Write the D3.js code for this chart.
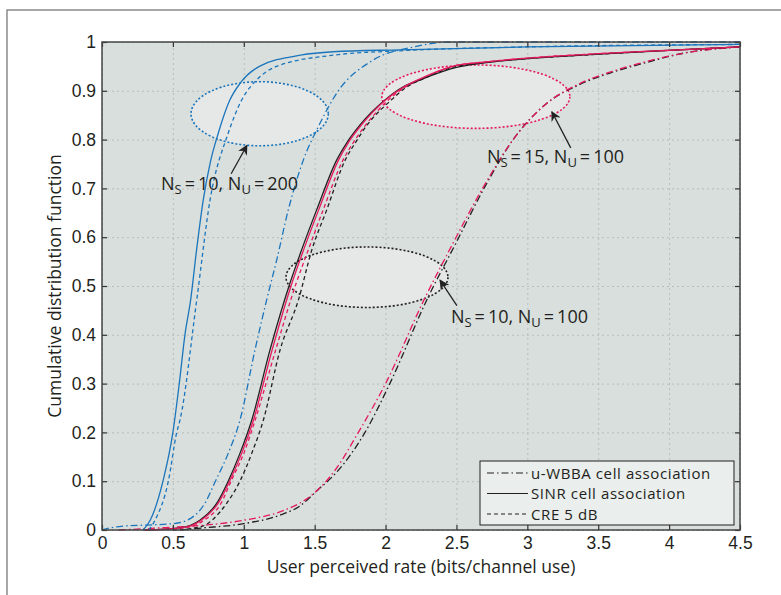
<!DOCTYPE html>
<html>
<head>
<meta charset="utf-8">
<script src="https://cdn.jsdelivr.net/npm/d3@7"></script>
<style>
  body { margin: 0; background: #fff; }
  svg { display: block; font-family: "Open Sans", "Noto Sans", sans-serif; }
</style>
</head>
<body>
<div id="chart"></div>
<script>
// tick labels
const xTicks = [0, 0.5, 1, 1.5, 2, 2.5, 3, 3.5, 4, 4.5];
const yTicks = [0, 0.1, 0.2, 0.3, 0.4, 0.5, 0.6, 0.7, 0.8, 0.9, 1];

// N_S=10, N_U=200 (blue)
const blueWbba = [[0,0],[0.07,0.005],[0.15,0.008],[0.3,0.01],[0.5,0.013],[0.6,0.02],[0.726,0.055],[0.8,0.1],[0.89,0.157],[0.973,0.225],[1.079,0.369],[1.161,0.471],[1.232,0.553],[1.314,0.656],[1.42,0.758],[1.525,0.826],[1.655,0.895],[1.913,0.963],[2.2,0.99],[2.45,1],[4.5,1]];
const blueSinr = [[0.29,0],[0.34,0.02],[0.43,0.1],[0.5,0.2],[0.545,0.3],[0.585,0.4],[0.625,0.471],[0.667,0.574],[0.714,0.676],[0.765,0.755],[0.82,0.813],[0.9,0.88],[0.973,0.915],[1.11,0.95],[1.4,0.973],[1.63,0.98],[2.1,0.984],[3,0.99],[4.5,0.995]];
const blueCre = [[0.33,0],[0.374,0.02],[0.468,0.1],[0.527,0.2],[0.55,0.225],[0.668,0.471],[0.762,0.676],[0.89,0.813],[0.985,0.881],[1.09,0.922],[1.23,0.95],[1.63,0.973],[2.1,0.982],[3,0.99],[4.5,0.995]];

// N_S=15, N_U=100 (red)
const redWbba = [[0.12,0],[0.45,0.005],[0.8,0.012],[1.0,0.02],[1.29,0.041],[1.45,0.065],[1.55,0.09],[1.65,0.125],[1.808,0.2],[2.0,0.3],[2.27,0.471],[2.48,0.59],[2.69,0.703],[2.9,0.8],[3.14,0.875],[3.37,0.915],[3.6,0.94],[3.84,0.96],[4.1,0.977],[4.5,0.99]];
const redSinr = [[0.3,0],[0.57,0.005],[0.7,0.02],[0.82,0.055],[0.9,0.1],[0.985,0.157],[1.068,0.225],[1.2,0.369],[1.34,0.506],[1.422,0.574],[1.528,0.656],[1.668,0.758],[1.74,0.795],[1.83,0.83],[2.0,0.881],[2.13,0.908],[2.24,0.924],[2.5,0.952],[2.67,0.958],[3.0,0.967],[3.5,0.976],[4.0,0.983],[4.5,0.99]];
const redCre = [[0.3,0],[0.6,0.005],[0.72,0.02],[0.84,0.055],[0.91,0.1],[1.0,0.157],[1.08,0.225],[1.225,0.369],[1.37,0.506],[1.455,0.574],[1.56,0.656],[1.7,0.758],[1.775,0.795],[1.86,0.83],[2.02,0.881],[2.14,0.908],[2.25,0.924],[2.5,0.952],[2.67,0.958],[3.0,0.967],[3.5,0.976],[4.0,0.983],[4.5,0.99]];

// N_S=10, N_U=100 (black)
const blackWbba = [[0.55,0],[0.7,0.004],[1.0,0.013],[1.25,0.03],[1.4,0.05],[1.514,0.08],[1.66,0.12],[1.855,0.2],[2.03,0.3],[2.29,0.471],[2.5,0.59],[2.7,0.703],[2.9,0.8],[3.14,0.875],[3.37,0.913],[3.6,0.938],[3.84,0.958],[4.1,0.977],[4.5,0.99]];
const blackSinr = [[0.3,0],[0.56,0.005],[0.69,0.02],[0.81,0.055],[0.89,0.1],[0.973,0.157],[1.056,0.225],[1.185,0.369],[1.326,0.506],[1.408,0.574],[1.514,0.656],[1.655,0.758],[1.73,0.795],[1.82,0.83],[1.996,0.881],[2.125,0.908],[2.24,0.922],[2.5,0.948],[2.67,0.956],[3.0,0.966],[3.5,0.975],[4.0,0.983],[4.5,0.99]];
const blackCre = [[0.5,0],[0.69,0.006],[0.88,0.055],[0.973,0.1],[1.056,0.157],[1.138,0.225],[1.256,0.369],[1.385,0.471],[1.48,0.574],[1.585,0.656],[1.715,0.758],[1.79,0.795],[1.87,0.83],[2.04,0.881],[2.15,0.908],[2.26,0.924],[2.5,0.95],[2.67,0.957],[3.0,0.966],[3.5,0.975],[4.0,0.983],[4.5,0.99]];

// group ellipses: [cx, cy, rx, ry] in data units
const blueGroup = [1.112, 0.853, 0.484, 0.0656];
const redGroup = [2.637, 0.888, 0.663, 0.065];
const blackGroup = [1.869, 0.518, 0.571, 0.062];

const legendLabels = ["u-WBBA cell association", "SINR cell association", "CRE 5 dB"];

const W = 781, H = 595;
const margin = { left: 102, top: 42, right: 41, bottom: 65 };
const iw = W - margin.left - margin.right;
const ih = H - margin.top - margin.bottom;

const colors = { blue: "#1b75bc", red: "#e6195c", black: "#231f20" };
const dashes = { wbba: "7,3,1.5,3", sinr: null, cre: "4,3" };
const ink = "#231f20";

const svg = d3.select("#chart").append("svg")
    .attr("width", W)
    .attr("height", H);

// outer frame
svg.append("rect")
    .attr("x", 7).attr("y", 10)
    .attr("width", W + 20).attr("height", H + 20)
    .attr("fill", "none")
    .attr("stroke", "#8a8a8a")
    .attr("stroke-width", 1.5);

const g = svg.append("g").attr("transform", `translate(${margin.left},${margin.top})`);

const x = d3.scaleLinear().domain([0, 4.5]).range([0, iw]);
const y = d3.scaleLinear().domain([0, 1]).range([ih, 0]);

g.append("rect")
    .attr("width", iw).attr("height", ih)
    .attr("fill", "#d9dfdd");

// grid
g.append("g")
    .attr("transform", `translate(0,${ih})`)
    .call(d3.axisBottom(x).tickValues(xTicks).tickSize(-ih).tickFormat(""))
    .call(s => s.select(".domain").remove())
    .selectAll("line")
    .attr("stroke", "#b9bebc")
    .attr("stroke-dasharray", "2,3");

g.append("g")
    .call(d3.axisLeft(y).tickValues(yTicks).tickSize(-iw).tickFormat(""))
    .call(s => s.select(".domain").remove())
    .selectAll("line")
    .attr("stroke", "#b9bebc")
    .attr("stroke-dasharray", "2,3");

// group ellipses
[[blueGroup, colors.blue], [redGroup, colors.red], [blackGroup, colors.black]].forEach(([e, c]) => {
    g.append("ellipse")
        .attr("cx", x(e[0]))
        .attr("cy", y(e[1]))
        .attr("rx", x(e[2]) - x(0))
        .attr("ry", y(0) - y(e[3]))
        .attr("fill", "#e6e8e7")
        .attr("stroke", c)
        .attr("stroke-width", 1.6)
        .attr("stroke-dasharray", "2,2");
});

const line = d3.line()
    .x(d => x(d[0]))
    .y(d => y(d[1]))
    .curve(d3.curveMonotoneX);

const series = [
    [blackWbba, colors.black, dashes.wbba],
    [redWbba, colors.red, dashes.wbba],
    [blackCre, colors.black, dashes.cre],
    [redCre, colors.red, dashes.cre],
    [blackSinr, colors.black, dashes.sinr],
    [redSinr, colors.red, dashes.sinr],
    [blueWbba, colors.blue, dashes.wbba],
    [blueCre, colors.blue, dashes.cre],
    [blueSinr, colors.blue, dashes.sinr]
];

const plot = g.append("g");
plot.selectAll("path")
    .data(series)
    .enter().append("path")
    .attr("d", d => line(d[0]))
    .attr("fill", "none")
    .attr("stroke", d => d[1])
    .attr("stroke-width", 1.3)
    .attr("stroke-dasharray", d => d[2]);

// axes, ticks pointing inward on all four sides
const tickStyle = s => {
    s.select(".domain").remove();
    s.selectAll("line").attr("stroke", "#333").attr("stroke-width", 1.2);
    s.selectAll("text").attr("fill", ink).style("font-size", "17.5px");
};

g.append("g")
    .attr("transform", `translate(0,${ih})`)
    .call(d3.axisBottom(x).tickValues(xTicks).tickSize(-5).tickPadding(7).tickFormat(d3.format("~g")))
    .call(tickStyle);
g.append("g")
    .call(d3.axisTop(x).tickValues(xTicks).tickSize(-5).tickFormat(""))
    .call(tickStyle);
g.append("g")
    .call(d3.axisLeft(y).tickValues(yTicks).tickSize(-5).tickPadding(6).tickFormat(d3.format("~g")))
    .call(tickStyle);
g.append("g")
    .attr("transform", `translate(${iw},0)`)
    .call(d3.axisRight(y).tickValues(yTicks).tickSize(-5).tickFormat(""))
    .call(tickStyle);

g.append("rect")
    .attr("width", iw).attr("height", ih)
    .attr("fill", "none")
    .attr("stroke", "#444")
    .attr("stroke-width", 1.5);

// axis titles
svg.append("text")
    .attr("x", margin.left + iw / 2)
    .attr("y", 573)
    .attr("text-anchor", "middle")
    .attr("fill", ink)
    .style("font-size", "17.5px")
    .text("User perceived rate (bits/channel use)");

svg.append("text")
    .attr("transform", `translate(61,${margin.top + ih / 2}) rotate(-90)`)
    .attr("text-anchor", "middle")
    .attr("fill", ink)
    .style("font-size", "17.5px")
    .text("Cumulative distribution function");

// annotations
svg.append("defs").append("marker")
    .attr("id", "arrow")
    .attr("viewBox", "0 0 10 10")
    .attr("refX", 9).attr("refY", 5)
    .attr("markerWidth", 10).attr("markerHeight", 10)
    .attr("markerUnits", "userSpaceOnUse")
    .attr("orient", "auto")
    .append("path")
    .attr("d", "M0,0 L10,5 L0,10 L3,5 Z")
    .attr("fill", "#222");

const notes = [
    { s: "10", u: "200", tx: 0.416, ty: 0.697, from: [0.911, 0.73], to: [1.022, 0.788] },
    { s: "15", u: "100", tx: 2.715, ty: 0.752, from: [3.306, 0.783], to: [3.173, 0.857] },
    { s: "10", u: "100", tx: 2.461, ty: 0.424, from: [2.503, 0.46], to: [2.384, 0.512] }
];

const thin = "\u2009";
notes.forEach(n => {
    g.append("line")
        .attr("x1", x(n.from[0])).attr("y1", y(n.from[1]))
        .attr("x2", x(n.to[0])).attr("y2", y(n.to[1]))
        .attr("stroke", "#222")
        .attr("stroke-width", 1.3)
        .attr("marker-end", "url(#arrow)");

    const t = g.append("text")
        .attr("x", x(n.tx))
        .attr("y", y(n.ty))
        .attr("fill", ink)
        .style("font-size", "18px");
    t.append("tspan").text("N");
    t.append("tspan").attr("dy", 4).style("font-size", "13px").text("S");
    t.append("tspan").attr("dy", -4).text(thin + "=" + thin + n.s + ", N");
    t.append("tspan").attr("dy", 4).style("font-size", "13px").text("U");
    t.append("tspan").attr("dy", -4).text(thin + "=" + thin + n.u);
});

// legend
const lg = svg.append("g").attr("transform", "translate(480,461)");
lg.append("rect")
    .attr("width", 254).attr("height", 64)
    .attr("fill", "#eaeeec")
    .attr("stroke", "#222")
    .attr("stroke-width", 1);

const legendDash = [dashes.wbba, dashes.sinr, dashes.cre];
legendLabels.forEach((lab, i) => {
    const yy = 12 + i * 20.5;
    lg.append("line")
        .attr("x1", 7).attr("x2", 48)
        .attr("y1", yy).attr("y2", yy)
        .attr("stroke", colors.black)
        .attr("stroke-width", 1.1)
        .attr("stroke-dasharray", legendDash[i]);
    lg.append("text")
        .attr("x", 51)
        .attr("y", yy + 5.5)
        .attr("fill", ink)
        .style("font-size", "15px")
        .style("letter-spacing", "0.6px")
        .text(lab);
});
</script>
</body>
</html>
